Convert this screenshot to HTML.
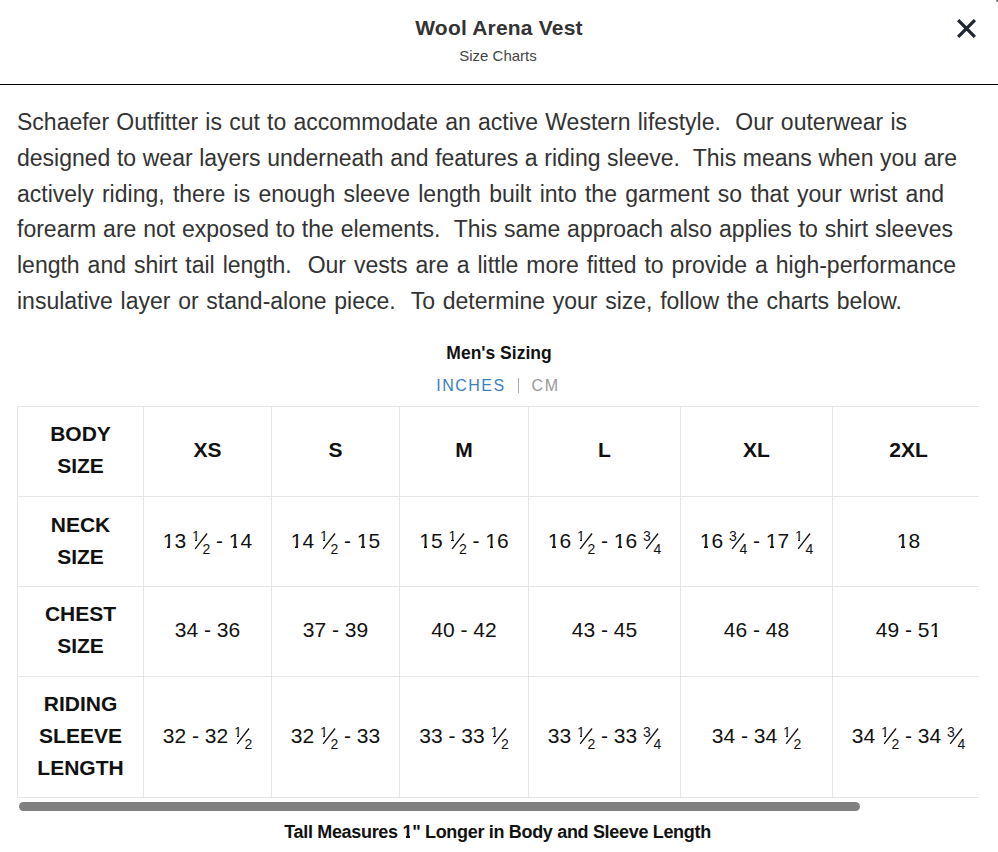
<!DOCTYPE html>
<html><head><meta charset="utf-8">
<style>
html,body{margin:0;padding:0;background:#fff;width:998px;height:852px;overflow:hidden;position:relative;font-family:"Liberation Sans",sans-serif;}
.hdr{position:absolute;left:0;top:0;width:998px;height:84px;border-bottom:1px solid #000;}
.title{position:absolute;left:0;width:998px;top:16.3px;text-align:center;font-weight:bold;font-size:21px;letter-spacing:0.2px;line-height:24px;color:#333;}
.sub{position:absolute;left:-1px;width:998px;top:46.5px;text-align:center;font-size:15px;line-height:18px;color:#444;}
.close{position:absolute;left:957px;top:19px;width:19px;height:19px;}
.para{position:absolute;left:17px;top:105.3px;color:#333;font-size:23px;}
.para div{height:35.65px;line-height:35.65px;white-space:nowrap;text-align:justify;text-align-last:justify;}
.mens{position:absolute;left:0;width:998px;top:342.8px;text-align:center;font-weight:bold;font-size:17.5px;line-height:20px;color:#111;}
.unit{position:absolute;left:0;width:998px;top:376px;text-align:center;font-size:16px;line-height:20px;letter-spacing:1.5px;}
.unit span{position:absolute;top:0}.unit .in{color:#3b7fc1;left:436.2px;letter-spacing:1.5px}
.unit .pipe{left:518px;top:2px;width:0;height:15px;border-left:1px solid #aaa;}
.unit .cm{color:#999;left:531.6px;}
.wrap{position:absolute;left:17px;top:406px;width:962px;height:392px;overflow:hidden;}
table{border-collapse:collapse;table-layout:fixed;width:1135px;}
td{border:1px solid #e6e6e6;text-align:center;vertical-align:middle;padding:0 0 4px 0;font-size:21px;line-height:32px;color:#111;}
td.h{font-weight:bold;}
.sb{position:absolute;left:19px;top:802px;width:841px;height:9px;border-radius:4.5px;background:#808080;}
.foot{position:absolute;left:-1.5px;width:998px;top:822px;text-align:center;font-weight:bold;font-size:18px;letter-spacing:-0.32px;line-height:20px;color:#111;}
.fr{display:inline-block;position:relative;width:18.15px;height:0;}
.fr .n,.fr .d{position:absolute;font-size:14px;line-height:14px;}
.fr .n{left:0;top:-18.4px}
.fr .d{left:10.5px;top:-5.6px}
.fr svg{position:absolute;left:3px;top:-15px;width:13px;height:17px;overflow:visible}
.r1 td{padding-bottom:3px}.r2 td,.r4 td{padding-bottom:2px}
.o,.ob{position:relative}
.o::before,.o::after,.ob::before,.ob::after{content:"";position:absolute;background:#fff;z-index:1;}
.o::before{left:0;width:4.6px;bottom:2.9px;height:2.6px}
.o::after{left:7.7px;width:3.6px;bottom:2.9px;height:2.6px}
.fr .o::before{left:0;width:2.6px;bottom:2.97px;height:1.4px}
.fr .o::after{left:5.0px;width:3px;bottom:2.97px;height:1.4px}
.ob::before{left:0;width:3.9px;bottom:3.3px;height:2.6px}
.ob::after{left:7.1px;width:3.6px;bottom:3.3px;height:2.6px}
</style></head><body>
<div class="hdr"></div>
<div class="title">Wool Arena Vest</div>
<div class="sub">Size Charts</div>
<svg class="close" viewBox="0 0 19 19"><path d="M1.1 1.1L17.9 17.9M17.9 1.1L1.1 17.9" stroke="#1e2833" stroke-width="3.3"/></svg>
<div class="para">
<div style="width:890px">Schaefer Outfitter is cut to accommodate an active Western lifestyle.&nbsp; Our outerwear is</div>
<div style="width:940px">designed to wear layers underneath and features a riding sleeve.&nbsp; This means when you are</div>
<div style="width:927px">actively riding, there is enough sleeve length built into the garment so that your wrist and</div>
<div style="width:936px">forearm are not exposed to the elements.&nbsp; This same approach also applies to shirt sleeves</div>
<div style="width:939px">length and shirt tail length.&nbsp; Our vests are a little more fitted to provide a high-performance</div>
<div style="width:885px">insulative layer or stand-alone piece.&nbsp; To determine your size, follow the charts below.</div>
</div>
<div class="mens">Men's Sizing</div>
<div class="unit"><span class="in">INCHES</span><span class="pipe"></span><span class="cm">CM</span></div>
<div class="wrap">
<table>
<colgroup><col style="width:126px"><col style="width:128px"><col style="width:128px"><col style="width:129px"><col style="width:152px"><col style="width:152px"><col style="width:152px"><col style="width:268px"></colgroup>
<tr style="height:90px" class="r1"><td class="h">BODY<br>SIZE</td><td class="h">XS</td><td class="h">S</td><td class="h">M</td><td class="h">L</td><td class="h">XL</td><td class="h">2XL</td><td class="h"></td></tr>
<tr style="height:90px" class="r2"><td class="h">NECK<br>SIZE</td><td><span class="o">1</span>3 <span class="fr"><span class="n"><span class="o">1</span></span><svg viewBox="0 0 13 17"><path d="M0.15 15.9L12.05 0.5" stroke="#111" stroke-width="1.3"/></svg><span class="d">2</span></span> - <span class="o">1</span>4</td><td><span class="o">1</span>4 <span class="fr"><span class="n"><span class="o">1</span></span><svg viewBox="0 0 13 17"><path d="M0.15 15.9L12.05 0.5" stroke="#111" stroke-width="1.3"/></svg><span class="d">2</span></span> - <span class="o">1</span>5</td><td><span class="o">1</span>5 <span class="fr"><span class="n"><span class="o">1</span></span><svg viewBox="0 0 13 17"><path d="M0.15 15.9L12.05 0.5" stroke="#111" stroke-width="1.3"/></svg><span class="d">2</span></span> - <span class="o">1</span>6</td><td><span class="o">1</span>6 <span class="fr"><span class="n"><span class="o">1</span></span><svg viewBox="0 0 13 17"><path d="M0.15 15.9L12.05 0.5" stroke="#111" stroke-width="1.3"/></svg><span class="d">2</span></span> - <span class="o">1</span>6 <span class="fr"><span class="n">3</span><svg viewBox="0 0 13 17"><path d="M0.15 15.9L12.05 0.5" stroke="#111" stroke-width="1.3"/></svg><span class="d">4</span></span></td><td><span class="o">1</span>6 <span class="fr"><span class="n">3</span><svg viewBox="0 0 13 17"><path d="M0.15 15.9L12.05 0.5" stroke="#111" stroke-width="1.3"/></svg><span class="d">4</span></span> - <span class="o">1</span>7 <span class="fr"><span class="n"><span class="o">1</span></span><svg viewBox="0 0 13 17"><path d="M0.15 15.9L12.05 0.5" stroke="#111" stroke-width="1.3"/></svg><span class="d">4</span></span></td><td><span class="o">1</span>8</td><td></td></tr>
<tr style="height:90px"><td class="h">CHEST<br>SIZE</td><td>34 - 36</td><td>37 - 39</td><td>40 - 42</td><td>43 - 45</td><td>46 - 48</td><td>49 - 5<span class="o">1</span></td><td></td></tr>
<tr style="height:121px" class="r4"><td class="h">RIDING<br>SLEEVE<br>LENGTH</td><td>32 - 32 <span class="fr"><span class="n"><span class="o">1</span></span><svg viewBox="0 0 13 17"><path d="M0.15 15.9L12.05 0.5" stroke="#111" stroke-width="1.3"/></svg><span class="d">2</span></span></td><td>32 <span class="fr"><span class="n"><span class="o">1</span></span><svg viewBox="0 0 13 17"><path d="M0.15 15.9L12.05 0.5" stroke="#111" stroke-width="1.3"/></svg><span class="d">2</span></span> - 33</td><td>33 - 33 <span class="fr"><span class="n"><span class="o">1</span></span><svg viewBox="0 0 13 17"><path d="M0.15 15.9L12.05 0.5" stroke="#111" stroke-width="1.3"/></svg><span class="d">2</span></span></td><td>33 <span class="fr"><span class="n"><span class="o">1</span></span><svg viewBox="0 0 13 17"><path d="M0.15 15.9L12.05 0.5" stroke="#111" stroke-width="1.3"/></svg><span class="d">2</span></span> - 33 <span class="fr"><span class="n">3</span><svg viewBox="0 0 13 17"><path d="M0.15 15.9L12.05 0.5" stroke="#111" stroke-width="1.3"/></svg><span class="d">4</span></span></td><td>34 - 34 <span class="fr"><span class="n"><span class="o">1</span></span><svg viewBox="0 0 13 17"><path d="M0.15 15.9L12.05 0.5" stroke="#111" stroke-width="1.3"/></svg><span class="d">2</span></span></td><td>34 <span class="fr"><span class="n"><span class="o">1</span></span><svg viewBox="0 0 13 17"><path d="M0.15 15.9L12.05 0.5" stroke="#111" stroke-width="1.3"/></svg><span class="d">2</span></span> - 34 <span class="fr"><span class="n">3</span><svg viewBox="0 0 13 17"><path d="M0.15 15.9L12.05 0.5" stroke="#111" stroke-width="1.3"/></svg><span class="d">4</span></span></td><td></td></tr>
</table>
</div>
<div class="sb"></div>
<div style="position:absolute;left:996px;top:0;width:2px;height:2px;background:#666;border-bottom-left-radius:2px"></div>
<div class="foot">Tall Measures <span class="ob">1</span>" Longer in Body and Sleeve Length</div>
</body></html>
